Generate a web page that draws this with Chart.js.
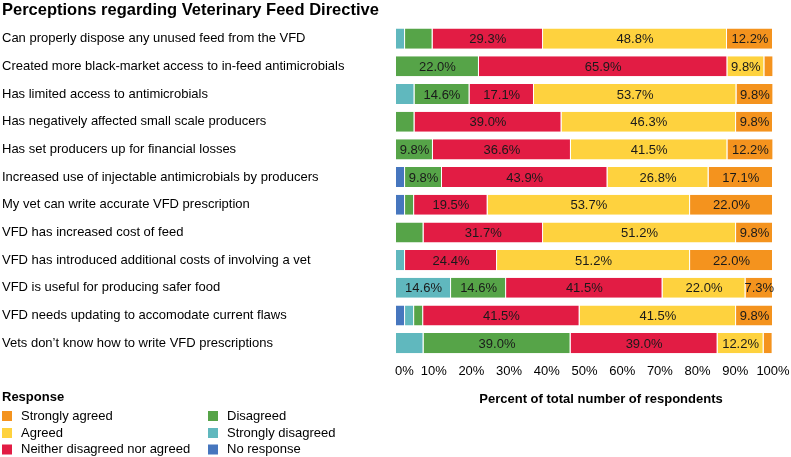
<!DOCTYPE html>
<html>
<head>
<meta charset="utf-8">
<script src="https://cdn.jsdelivr.net/npm/chart.js@4"></script>
<style>
  html, body { margin: 0; padding: 0; background: #fff; }
  #wrap { width: 791px; height: 457px; position: relative; }
</style>
</head>
<body>
<div id="wrap"><canvas id="myChart" width="791" height="457"></canvas></div>
<script>
// statements, top to bottom
let statements = [
  "Can properly dispose any unused feed from the VFD",
  "Created more black-market access to in-feed antimicrobials",
  "Has limited access to antimicrobials",
  "Has negatively affected small scale producers",
  "Has set producers up for financial losses",
  "Increased use of injectable antimicrobials by producers",
  "My vet can write accurate VFD prescription",
  "VFD has increased cost of feed",
  "VFD has introduced additional costs of involving a vet",
  "VFD is useful for producing safer food",
  "VFD needs updating to accomodate current flaws",
  "Vets don\u2019t know how to write VFD prescriptions"
];

// percent of respondents, one value per statement
let noResponse        = [0, 0, 0, 0, 0, 2.4, 2.4, 0, 0, 0, 2.4, 0];
let stronglyDisagreed = [2.4, 0, 4.9, 0, 0, 0, 0, 0, 2.4, 14.6, 2.4, 7.3];
let disagreed         = [7.3, 22.0, 14.6, 4.9, 9.8, 9.8, 2.4, 7.3, 0, 14.6, 2.4, 39.0];
let neither           = [29.3, 65.9, 17.1, 39.0, 36.6, 43.9, 19.5, 31.7, 24.4, 41.5, 41.5, 39.0];
let agreed            = [48.8, 9.8, 53.7, 46.3, 41.5, 26.8, 53.7, 51.2, 51.2, 22.0, 41.5, 12.2];
let stronglyAgreed    = [12.2, 2.4, 9.8, 9.8, 12.2, 17.1, 22.0, 9.8, 22.0, 7.3, 9.8, 2.4];

let xTicks = [0, 10, 20, 30, 40, 50, 60, 70, 80, 90, 100];

let series = [
  { label: "No response", data: noResponse, color: "rgb(70,118,190)" },
  { label: "Strongly disagreed", data: stronglyDisagreed, color: "rgb(96,184,190)" },
  { label: "Disagreed", data: disagreed, color: "rgb(86,164,72)" },
  { label: "Neither disagreed nor agreed", data: neither, color: "rgb(226,28,68)" },
  { label: "Agreed", data: agreed, color: "rgb(254,210,62)" },
  { label: "Strongly agreed", data: stronglyAgreed, color: "rgb(244,147,30)" }
];

const FONT = "'Liberation Sans', Arial, sans-serif";

// labels inside segments
const segLabels = {
  id: "segLabels",
  afterDatasetsDraw(chart) {
    const ctx = chart.ctx;
    ctx.save();
    ctx.font = "13px " + FONT;
    ctx.fillStyle = "#1a1a1a";
    ctx.textAlign = "center";
    ctx.textBaseline = "middle";
    chart.data.datasets.forEach((ds, di) => {
      const meta = chart.getDatasetMeta(di);
      meta.data.forEach((bar, i) => {
        const v = ds.data[i];
        const show = v >= 9 || (v >= 7 && ds.label === "Strongly agreed");
        if (!show) return;
        const p = bar.getCenterPoint();
        ctx.fillText(v.toFixed(1) + "%", p.x, p.y + 1);
      });
    });
    ctx.restore();
  }
};

// x tick labels, axis title and the legend underneath
const bottomStuff = {
  id: "bottomStuff",
  afterDraw(chart) {
    const ctx = chart.ctx;
    const xs = chart.scales.x;
    ctx.save();
    ctx.fillStyle = "#000";
    ctx.textBaseline = "middle";
    ctx.font = "13px " + FONT;
    xTicks.forEach(t => {
      const px = xs.getPixelForValue(t);
      if (t === 0) {
        ctx.textAlign = "left";
        ctx.fillText(t + "%", px - 1, 371);
      } else {
        ctx.textAlign = "center";
        ctx.fillText(t + "%", px, 371);
      }
    });
    ctx.font = "bold 13px " + FONT;
    ctx.textAlign = "center";
    ctx.fillText("Percent of total number of respondents", 601, 399);

    ctx.textAlign = "left";
    ctx.fillText("Response", 2, 397);
    ctx.font = "13px " + FONT;
    const order = series.slice().reverse();
    const rows = [416, 433, 449.5];
    order.forEach((s, k) => {
      const col = Math.floor(k / 3);
      const row = k % 3;
      const x0 = col === 0 ? 2 : 208;
      const y0 = rows[row];
      ctx.fillStyle = s.color;
      ctx.fillRect(x0, y0 - 5, 10, 10);
      ctx.fillStyle = "#000";
      ctx.fillText(s.label, x0 + 19, y0);
    });
    ctx.restore();
  }
};

var ctx = document.getElementById("myChart").getContext("2d");

var chart1 = new Chart(ctx, {
  type: "bar",
  data: {
    labels: statements,
    datasets: series.map(s => ({
      label: s.label,
      data: s.data,
      backgroundColor: s.color,
      borderColor: "#fff",
      borderWidth: { top: 0, bottom: 0, left: 0, right: 1 },
      borderSkipped: false,
      barPercentage: 0.725,
      categoryPercentage: 1.0
    }))
  },
  options: {
    indexAxis: "y",
    responsive: false,
    animation: false,
    layout: { padding: { left: 2, right: 18, top: 0, bottom: 0 } },
    plugins: {
      legend: { display: false },
      tooltip: { enabled: false },
      title: {
        display: true,
        text: "Perceptions regarding Veterinary Feed Directive",
        align: "start",
        color: "#000",
        font: { family: FONT, size: 16.5, weight: "bold" },
        padding: { top: 1, bottom: 4 }
      }
    },
    scales: {
      x: {
        stacked: true,
        min: 0,
        max: 100,
        grid: { display: false },
        border: { display: false },
        ticks: { display: false },
        afterFit(scale) { scale.height = 100; }
      },
      y: {
        stacked: true,
        grid: { display: false },
        border: { display: false },
        ticks: {
          crossAlign: "far",
          color: "#000",
          font: { family: FONT, size: 13 }
        },
        afterFit(scale) { scale.width = 394; }
      }
    }
  },
  plugins: [segLabels, bottomStuff]
});
</script>
</body>
</html>
